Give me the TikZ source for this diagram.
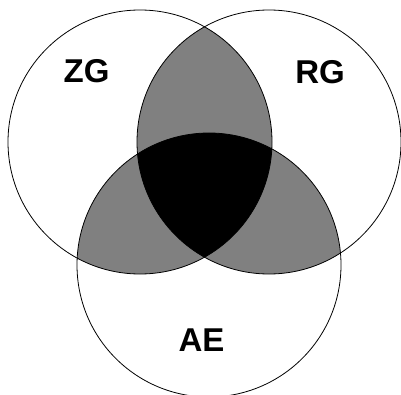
\documentclass[tikz,border=0pt]{standalone}
\usepackage{fontspec}
\setmainfont{Liberation Sans}

\begin{document}
\begin{tikzpicture}[
    x=1pt, y=1pt,
    set/.style={draw=black,line width=0.8pt},
    pair/.style={fill=black!50},
    lbl/.style={font=\fontsize{33}{33}\selectfont\bfseries,inner sep=0pt},
  ]
  \useasboundingbox (0,0) rectangle (401,394);
  \def\rad{132}

  % circle centres
  \coordinate (zg) at (140,252);
  \coordinate (rg) at (269,252);
  \coordinate (ae) at (209,129);

  % pairwise overlaps (grey)
  \begin{scope}
    \clip (zg) circle[radius=\rad];
    \fill[pair] (rg) circle[radius=\rad];
    \fill[pair] (ae) circle[radius=\rad];
  \end{scope}
  \begin{scope}
    \clip (rg) circle[radius=\rad];
    \fill[pair] (ae) circle[radius=\rad];
  \end{scope}

  % common part of all three (black)
  \begin{scope}
    \clip (zg) circle[radius=\rad];
    \clip (rg) circle[radius=\rad];
    \fill[black] (ae) circle[radius=\rad];
  \end{scope}

  % outlines
  \foreach \c in {zg,rg,ae}
    \draw[set] (\c) circle[radius=\rad];

  % set names
  \node[lbl] (zgname) at (86.5,322.5) {ZG};
  \node[lbl] (rgname) at (320,321.5) {RG};
  \node[lbl] (aename) at (201.5,53.5) {AE};
\end{tikzpicture}
\end{document}
